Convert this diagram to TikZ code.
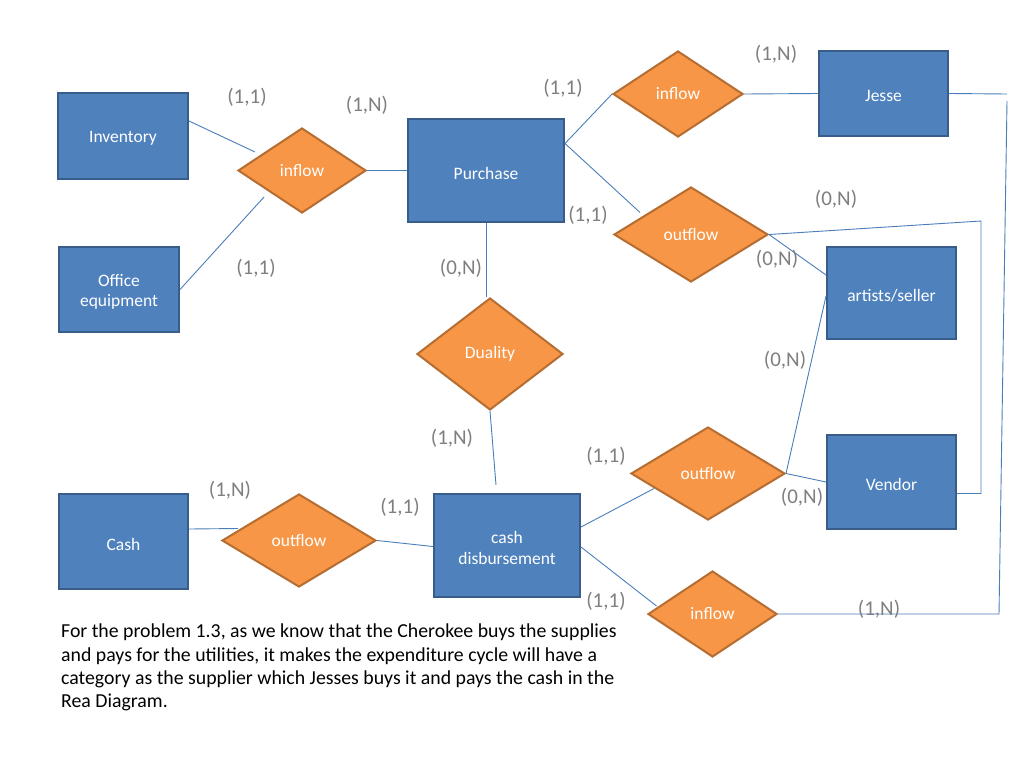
\documentclass[tikz,border=0pt]{standalone}
\usepackage{fontspec}
\setmainfont{Carlito}
\usetikzlibrary{shapes.geometric}
\definecolor{entfill}{HTML}{4F81BD}
\definecolor{entdraw}{HTML}{385D8A}
\definecolor{relfill}{HTML}{F79646}
\definecolor{reldraw}{HTML}{B66D31}
\definecolor{conn}{HTML}{4A7EBB}
\definecolor{cardc}{HTML}{7F7F7F}
\newcommand{\lwr}[1]{\raisebox{-2.5pt}[\height][\depth]{#1}}
\tikzset{
  entity/.style={rectangle, draw=entdraw, fill=entfill, line width=2pt, text=white,
    font=\fontsize{17.5}{20.5}\selectfont, align=center, inner sep=0pt},
  rel/.style={diamond, draw=reldraw, fill=relfill, line width=2pt, text=white,
    font=\fontsize{17.5}{20.5}\selectfont, inner sep=0pt},
  card/.style={text=cardc, font=\fontsize{21}{24}\selectfont, inner sep=0pt},
  link/.style={draw=conn, line width=0.9pt},
}
\begin{document}
\begin{tikzpicture}[x=1pt,y=-1pt]
\useasboundingbox[fill=white] (0,0) rectangle (1024,768);
% entities
\node[entity, minimum width=130, minimum height=86] (inv) at (123,136) {\lwr{Inventory}};
\node[entity, minimum width=120, minimum height=85] (off) at (119,289.5) {\lwr{Office}\\\lwr{equipment}};
\node[entity, minimum width=156, minimum height=103] (pur) at (486,170.5) {\lwr{Purchase}};
\node[entity, minimum width=146, minimum height=103] (cd) at (507,545.5) {\lwr{cash}\\\lwr{disbursement}};
\node[entity, minimum width=129, minimum height=95] (cash) at (123.5,541.5) {\lwr{Cash}};
\node[entity, minimum width=129, minimum height=85] (jes) at (883.5,93.5) {\lwr{Jesse}};
\node[entity, minimum width=129, minimum height=92] (art) at (891.5,293) {\lwr{artists/seller}};
\node[entity, minimum width=129, minimum height=94] (ven) at (891.5,482) {\lwr{Vendor}};
% relationships
\node[rel, minimum width=128, minimum height=85] (il) at (302,170.5) {inflow};
\node[rel, minimum width=146, minimum height=112] (dua) at (490,354) {Duality};
\node[rel, minimum width=154, minimum height=93] (ol) at (299,540.5) {outflow};
\node[rel, minimum width=130, minimum height=86] (itr) at (678,94) {inflow};
\node[rel, minimum width=154, minimum height=95] (ot) at (691,234.5) {outflow};
\node[rel, minimum width=154, minimum height=93] (om) at (708,473.5) {outflow};
\node[rel, minimum width=129, minimum height=86] (ib) at (712.5,614) {inflow};
% corner points
\coordinate (c1) at (1007,94);
\coordinate (c2) at (1007,101);
\coordinate (c3) at (999,614);
\coordinate (c4) at (981,221);
\coordinate (c5) at (981,493.5);
% connectors
\draw[link] ([shift={(0,-15)}]inv.east) -- ([shift={(-47,-18.5)}]il.center);
\draw[link] (off.east) -- ([shift={(-38,26.5)}]il.center);
\draw[link] (il.east) -- (pur.west);
\draw[link] (pur.south) -- (pur.south |- dua.north);
\draw[link] (dua.south) -- ([shift={(-11,-8)}]cd.north);
\draw[link] ([shift={(0,-12.5)}]cash.east) -- ([shift={(-61,-12)}]ol.center);
\draw[link] (ol.east) -- ([shift={(0,1)}]cd.west);
\draw[link] ([shift={(0,-27)}]pur.east) -- (itr.west);
\draw[link] ([shift={(0,-27)}]pur.east) -- ([shift={(-51,-22)}]ot.center);
\draw[link] (itr.east) -- (jes.west);
\draw[link] (jes.east) -- (c1);
\draw[link] (c2) -- (c3) -- (ib.east);
\draw[link] (ot.east) -- (c4) -- (c5) -- ([shift={(0,11.5)}]ven.east);
\draw[link] (ot.east) -- ([shift={(0,-18)}]art.west);
\draw[link] ([shift={(0,3)}]art.west) -- (om.east);
\draw[link] (om.east) -- (ven.west);
\draw[link] ([shift={(0,-18.5)}]cd.east) -- ([shift={(-54,15)}]om.center);
\draw[link] ([shift={(0,1.5)}]cd.east) -- ([shift={(-56,-8)}]ib.center);
% cardinalities
\node[card] (k1) at (247,97) {(1,1)};
\node[card] (k2) at (367,105) {(1,N)};
\node[card] (k3) at (563,88) {(1,1)};
\node[card] (k4) at (776,54) {(1,N)};
\node[card] (k5) at (836,199) {(0,N)};
\node[card] (k6) at (588,215) {(1,1)};
\node[card] (k7) at (777,259) {(0,N)};
\node[card] (k8) at (256,268) {(1,1)};
\node[card] (k9) at (461,268) {(0,N)};
\node[card] (k10) at (785,360) {(0,N)};
\node[card] (k11) at (452,438) {(1,N)};
\node[card] (k12) at (606,456) {(1,1)};
\node[card] (k13) at (230,490) {(1,N)};
\node[card] (k14) at (400,507) {(1,1)};
\node[card] (k15) at (802,497) {(0,N)};
\node[card] (k16) at (606,601) {(1,1)};
\node[card] (k17) at (879,609) {(1,N)};
% paragraph
\node[anchor=north west, inner sep=0pt, align=left, font=\fontsize{19.8}{23.3}\selectfont] (para) at (61,624)
{For the problem 1.3, as we know that the Cherokee buys the supplies\\
and pays for the utilities, it makes the expenditure cycle will have a\\
category as the supplier which Jesses buys it and pays the cash in the\\
Rea Diagram.};
\end{tikzpicture}
\end{document}
